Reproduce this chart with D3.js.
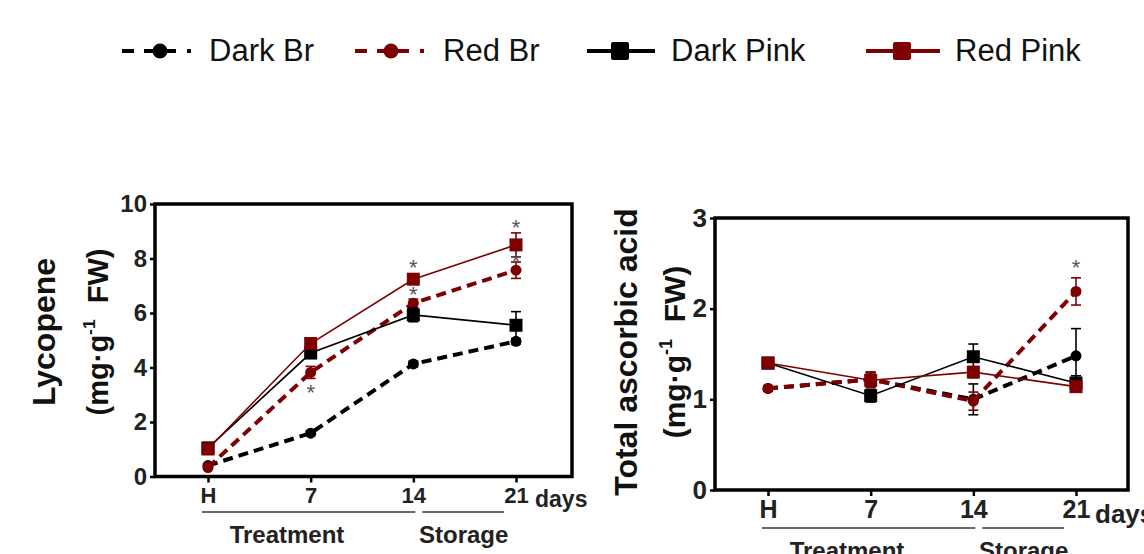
<!DOCTYPE html>
<html>
<head>
<meta charset="utf-8">
<script src="https://cdn.jsdelivr.net/npm/d3@7"></script>
<style>
  body { margin: 0; background: #fff; }
  svg { display: block; font-family: "Liberation Sans", Arial, sans-serif; }
</style>
</head>
<body>
<script>
  // time points
  const timeLabels = ['H', '7', '14', '21'];
  const seriesNames = ['Dark Br', 'Red Br', 'Dark Pink', 'Red Pink'];

  // lycopene (mg g-1 FW)
  const lycDarkBr = [0.40, 1.59, 4.13, 4.96];
  const lycRedBr = [0.33, 3.82, 6.36, 7.57];
  const lycDarkPink = [1.05, 4.53, 5.93, 5.55];
  const lycRedPink = [1.01, 4.88, 7.24, 8.50];
  const lycDarkBrErr = [0.05, 0.08, 0.1, 0.1];
  const lycRedBrErr = [0.05, 0.22, 0.15, 0.3];
  const lycDarkPinkErr = [0.05, 0.1, 0.25, 0.5];
  const lycRedPinkErr = [0.05, 0.15, 0.15, 0.44];
  const lycStarIdx = [1, 2, 2, 3, 3];
  const lycStarVal = [3.29, 7.87, 6.87, 9.33, 8.11];
  const lycTicks = [0, 2, 4, 6, 8, 10];

  // total ascorbic acid (mg g-1 FW)
  const asaDarkBr = [1.12, 1.22, 1.00, 1.48];
  const asaRedBr = [1.12, 1.22, 0.98, 2.19];
  const asaDarkPink = [1.40, 1.04, 1.47, 1.18];
  const asaRedPink = [1.40, 1.21, 1.30, 1.14];
  const asaDarkBrErr = [0.03, 0.08, 0.17, 0.3];
  const asaRedBrErr = [0.03, 0.08, 0.1, 0.15];
  const asaDarkPinkErr = [0.03, 0.07, 0.14, 0.08];
  const asaRedPinkErr = [0.03, 0.08, 0.06, 0.04];
  const asaStarIdx = [3];
  const asaStarVal = [2.52];
  const asaTicks = [0, 1, 2, 3];

  const width = 1144;
  const height = 554;
  const darkRed = '#7f0000';

  const styles = {
    'Dark Br': { color: '#000', dash: '10,6', lw: 4, shape: 'circle' },
    'Red Br': { color: darkRed, dash: '10,6', lw: 4, shape: 'circle' },
    'Dark Pink': { color: '#000', dash: null, lw: 1.6, shape: 'square' },
    'Red Pink': { color: darkRed, dash: null, lw: 1.6, shape: 'square' },
  };

  const svg = d3.select('body').append('svg')
    .attr('width', width)
    .attr('height', height);

  // legend
  const legendPos = [
    { line: [122, 195], mark: 160, text: 209 },
    { line: [355, 428], mark: 391, text: 443 },
    { line: [587, 655], mark: 620, text: 671 },
    { line: [866, 940], mark: 902, text: 955 },
  ];
  const legend = svg.append('g');
  seriesNames.forEach((name, i) => {
    const st = styles[name];
    const p = legendPos[i];
    legend.append('line')
      .attr('x1', p.line[0]).attr('x2', p.line[1])
      .attr('y1', 51).attr('y2', 51)
      .attr('stroke', st.color)
      .attr('stroke-width', 4)
      .attr('stroke-dasharray', st.dash ? '12,10,32,11,4' : null);
    if (st.shape === 'circle') {
      legend.append('circle').attr('cx', p.mark).attr('cy', 51).attr('r', 7.5).attr('fill', st.color);
    } else {
      legend.append('rect').attr('x', p.mark - 9).attr('y', 42).attr('width', 18).attr('height', 18)
        .attr('rx', 2).attr('fill', st.color);
    }
    legend.append('text')
      .attr('x', p.text).attr('y', 61)
      .attr('font-size', 31)
      .attr('fill', '#111')
      .text(name);
  });

  function drawPanel(cfg) {
    const x = d3.scaleLinear().domain([0, 3]).range([cfg.left + 53, cfg.left + 361]);
    const y = d3.scaleLinear().domain([0, cfg.yMax]).range([cfg.bottom, cfg.top]);
    const g = svg.append('g');

    // frame
    g.append('rect')
      .attr('x', cfg.left).attr('y', cfg.top)
      .attr('width', cfg.right - cfg.left).attr('height', cfg.bottom - cfg.top)
      .attr('fill', 'none').attr('stroke', '#000').attr('stroke-width', 3.5);

    const yAxis = g.append('g')
      .attr('transform', `translate(${cfg.left},0)`)
      .call(d3.axisLeft(y).tickValues(cfg.ticks).tickFormat(d3.format('d'))
        .tickSize(5).tickSizeOuter(0).tickPadding(3));
    yAxis.select('.domain').remove();
    yAxis.selectAll('line').attr('stroke-width', 2.5);
    yAxis.selectAll('text')
      .attr('font-family', '"Liberation Sans", Arial, sans-serif')
      .attr('font-size', cfg.yTickFont).attr('font-weight', 'bold').attr('fill', '#222');

    const xAxis = g.append('g')
      .attr('transform', `translate(0,${cfg.bottom})`)
      .call(d3.axisBottom(x).tickValues([0, 1, 2, 3]).tickFormat((i) => timeLabels[i])
        .tickSize(6).tickSizeOuter(0).tickPadding(cfg.xPad));
    xAxis.select('.domain').remove();
    xAxis.selectAll('line').attr('stroke-width', 2.5);
    xAxis.selectAll('text')
      .attr('font-family', '"Liberation Sans", Arial, sans-serif')
      .attr('font-size', cfg.xTickFont).attr('font-weight', 'bold').attr('fill', '#222');

    g.append('text')
      .attr('x', x(3) + 19).attr('y', cfg.labelBase)
      .attr('font-size', cfg.xTickFont + 1).attr('font-weight', 'bold').attr('fill', '#222')
      .text('days');

    // treatment / storage brackets
    g.append('line')
      .attr('x1', x(0) - 6).attr('x2', x(2) + 2)
      .attr('y1', cfg.underY).attr('y2', cfg.underY)
      .attr('stroke', '#333').attr('stroke-width', 1.6);
    g.append('line')
      .attr('x1', x(2) + 9).attr('x2', x(3) - 12)
      .attr('y1', cfg.underY).attr('y2', cfg.underY)
      .attr('stroke', '#333').attr('stroke-width', 1.6);
    g.append('text')
      .attr('x', x(0) + 79).attr('y', cfg.phaseBase)
      .attr('text-anchor', 'middle')
      .attr('font-size', 24).attr('font-weight', 'bold').attr('fill', '#222')
      .text('Treatment');
    g.append('text')
      .attr('x', (x(2) + x(3)) / 2 - 1).attr('y', cfg.phaseBase)
      .attr('text-anchor', 'middle')
      .attr('font-size', 24).attr('font-weight', 'bold').attr('fill', '#222')
      .text('Storage');

    // y titles
    g.append('text')
      .attr('transform', `translate(${cfg.title1X},${cfg.titleY}) rotate(-90)`)
      .attr('text-anchor', 'middle')
      .attr('font-size', cfg.title1Font).attr('font-weight', 'bold').attr('fill', '#111')
      .text(cfg.title);
    const unit = g.append('text')
      .attr('transform', `translate(${cfg.title2X},${cfg.titleY}) rotate(-90)`)
      .attr('text-anchor', 'middle')
      .attr('font-size', cfg.title2Font).attr('font-weight', 'bold').attr('fill', '#111');
    unit.append('tspan').text('(mg·g');
    unit.append('tspan').attr('font-size', cfg.title2Font * 0.6).attr('dy', -cfg.title2Font * 0.45).text('-1');
    unit.append('tspan').attr('dy', cfg.title2Font * 0.45).text('\u00a0 FW)');

    // series
    const line = d3.line().x((d, i) => x(i)).y((d) => y(d));
    seriesNames.forEach((name) => {
      const st = styles[name];
      const vals = cfg.values[name];
      const errs = cfg.errors[name];
      const sg = g.append('g');
      sg.append('path')
        .datum(vals)
        .attr('d', line)
        .attr('fill', 'none')
        .attr('stroke', st.color)
        .attr('stroke-width', st.lw)
        .attr('stroke-dasharray', st.dash);
      vals.forEach((v, i) => {
        const e = errs[i];
        sg.append('line')
          .attr('x1', x(i)).attr('x2', x(i))
          .attr('y1', y(v - e)).attr('y2', y(v + e))
          .attr('stroke', st.color).attr('stroke-width', 1.6);
        [v - e, v + e].forEach((ev) => {
          sg.append('line')
            .attr('x1', x(i) - 5).attr('x2', x(i) + 5)
            .attr('y1', y(ev)).attr('y2', y(ev))
            .attr('stroke', st.color).attr('stroke-width', 1.6);
        });
      });
      sg.selectAll('.mk')
        .data(vals)
        .enter()
        .append(st.shape === 'circle' ? 'circle' : 'rect')
        .each(function (d, i) {
          const el = d3.select(this).attr('fill', st.color);
          if (st.shape === 'circle') {
            el.attr('cx', x(i)).attr('cy', y(d)).attr('r', 5.5);
          } else {
            el.attr('x', x(i) - 6.5).attr('y', y(d) - 6.5).attr('width', 13).attr('height', 13);
          }
        });
    });

    // significance
    cfg.starIdx.forEach((idx, k) => {
      g.append('text')
        .attr('x', x(idx)).attr('y', y(cfg.starVal[k]))
        .attr('dy', '0.6em')
        .attr('text-anchor', 'middle')
        .attr('font-size', 22).attr('fill', '#555')
        .text('*');
    });
  }

  drawPanel({
    left: 155, right: 572, top: 204, bottom: 476.5, yMax: 10, ticks: lycTicks,
    yTickFont: 24, xTickFont: 22, xPad: 5, labelBase: 507, underY: 512, phaseBase: 543,
    title: 'Lycopene', title1X: 55, title2X: 108, titleY: 332, title1Font: 32, title2Font: 29,
    values: { 'Dark Br': lycDarkBr, 'Red Br': lycRedBr, 'Dark Pink': lycDarkPink, 'Red Pink': lycRedPink },
    errors: { 'Dark Br': lycDarkBrErr, 'Red Br': lycRedBrErr, 'Dark Pink': lycDarkPinkErr, 'Red Pink': lycRedPinkErr },
    starIdx: lycStarIdx, starVal: lycStarVal,
  });

  drawPanel({
    left: 715, right: 1128, top: 218, bottom: 490, yMax: 3, ticks: asaTicks,
    yTickFont: 26, xTickFont: 25, xPad: 4, labelBase: 523, underY: 528, phaseBase: 559,
    title: 'Total ascorbic acid', title1X: 637, title2X: 685, titleY: 352, title1Font: 32, title2Font: 30,
    values: { 'Dark Br': asaDarkBr, 'Red Br': asaRedBr, 'Dark Pink': asaDarkPink, 'Red Pink': asaRedPink },
    errors: { 'Dark Br': asaDarkBrErr, 'Red Br': asaRedBrErr, 'Dark Pink': asaDarkPinkErr, 'Red Pink': asaRedPinkErr },
    starIdx: asaStarIdx, starVal: asaStarVal,
  });
</script>
</body>
</html>
